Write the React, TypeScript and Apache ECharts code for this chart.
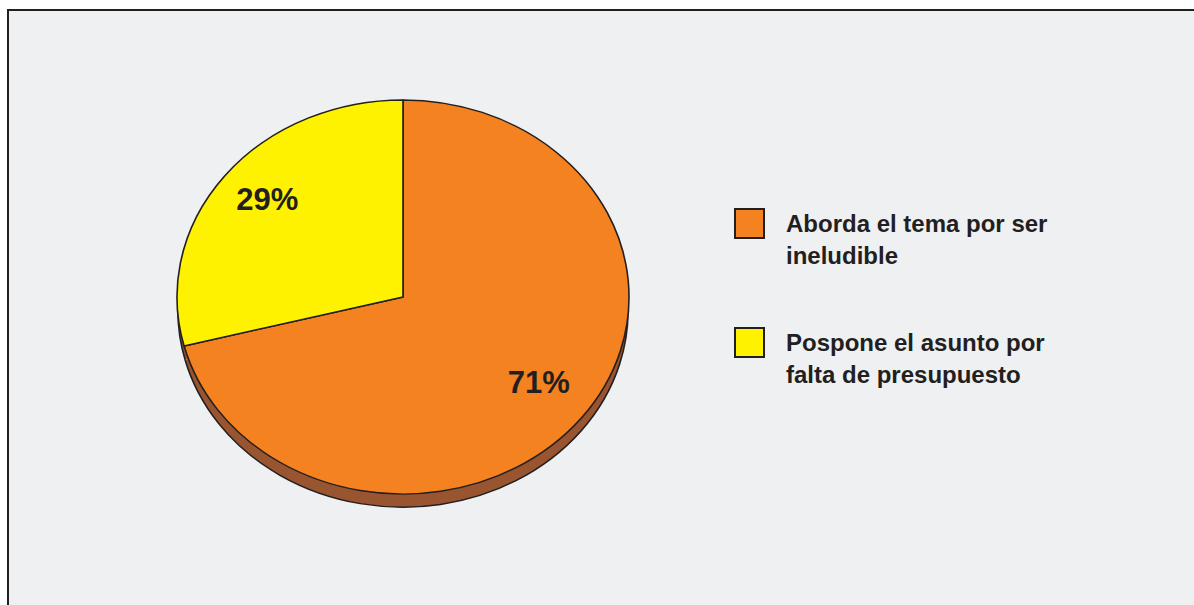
import React, { useEffect, useRef } from "react";
import * as echarts from "echarts";

const categories = ["Aborda el tema por ser\nineludible", "Pospone el asunto por\nfalta de presupuesto"];
const values = [71, 29];
const colors = ["#f58220", "#fff200"];
const depthColor = "#99552f";
const ink = "#231f20";

export default function App() {
  const ref = useRef<HTMLDivElement>(null);
  useEffect(() => {
    if (!ref.current) return;
    const chart = echarts.init(ref.current, undefined, { renderer: "svg" });
    const total = values.reduce((a, b) => a + b, 0);
    const cx = 394, cy = 286, rx = 226, ry = 197, depth = 14;
    const sy = ry / rx;
    const font = 'bold 31px "Liberation Sans", Arial, sans-serif';
    const legendFont = 'bold 24px "Liberation Sans", Arial, sans-serif';

    const legendGraphics: any[] = [];
    const legendTops = [197, 316];
    categories.forEach((name, i) => {
      legendGraphics.push({
        type: "rect",
        left: 725,
        top: legendTops[i],
        shape: { width: 29, height: 29 },
        style: { fill: colors[i], stroke: ink, lineWidth: 2 },
      });
      legendGraphics.push({
        type: "text",
        x: 777,
        y: legendTops[i],
        style: {
          text: name,
          font: legendFont,
          fill: ink,
          lineHeight: 31.5,
          align: "left",
          verticalAlign: "top",
        },
      });
    });

    chart.setOption({
      animation: false,
      backgroundColor: "#eff0f2",
      graphic: legendGraphics,
      series: [
        {
          type: "custom",
          coordinateSystem: "none",
          data: values.map((v, i) => ({ name: categories[i], value: [v] })),
          renderItem: (params: any, api: any) => {
            const i = params.dataIndex;
            const v = api.value(0) as number;
            const before = values.slice(0, i).reduce((a, b) => a + b, 0);
            const start = -Math.PI / 2 + (before / total) * Math.PI * 2;
            const end = start + (v / total) * Math.PI * 2;
            const mid = (start + end) / 2;
            const lx = cx + rx * 0.76 * Math.cos(mid);
            const ly = cy + ry * 0.76 * Math.sin(mid) - 6;
            return {
              type: "group",
              children: [
                {
                  type: "sector",
                  x: cx,
                  y: cy + depth,
                  scaleY: sy,
                  shape: { cx: 0, cy: 0, r0: 0, r: rx - 1, startAngle: start, endAngle: end, clockwise: true },
                  style: { fill: depthColor, stroke: "none" },
                  z2: 1,
                },
                {
                  type: "arc",
                  x: cx,
                  y: cy + depth,
                  scaleY: sy,
                  shape: { cx: 0, cy: 0, r: rx - 1, startAngle: start, endAngle: end, clockwise: true },
                  style: { fill: "none", stroke: ink, lineWidth: 1.6, strokeNoScale: true },
                  z2: 2,
                },
                {
                  type: "sector",
                  x: cx,
                  y: cy,
                  scaleY: sy,
                  shape: { cx: 0, cy: 0, r0: 0, r: rx, startAngle: start, endAngle: end, clockwise: true },
                  style: { fill: colors[i], stroke: ink, lineWidth: 1.6, strokeNoScale: true, lineJoin: "round" },
                  z2: 5,
                },
                {
                  type: "text",
                  x: lx,
                  y: ly,
                  style: {
                    text: v + "%",
                    font,
                    fill: ink,
                    align: "center",
                    verticalAlign: "middle",
                  },
                  z2: 10,
                },
              ],
            };
          },
        },
      ],
    });
    return () => chart.dispose();
  }, []);

  return (
    <div
      style={{
        position: "fixed",
        left: 7,
        top: 9,
        width: 1187,
        height: 596,
        borderTop: `2px solid ${ink}`,
        borderLeft: `2px solid ${ink}`,
        background: "#eff0f2",
        boxSizing: "border-box",
        overflow: "hidden",
      }}
    >
      <div ref={ref} style={{ width: 1185, height: 594 }} />
    </div>
  );
}
